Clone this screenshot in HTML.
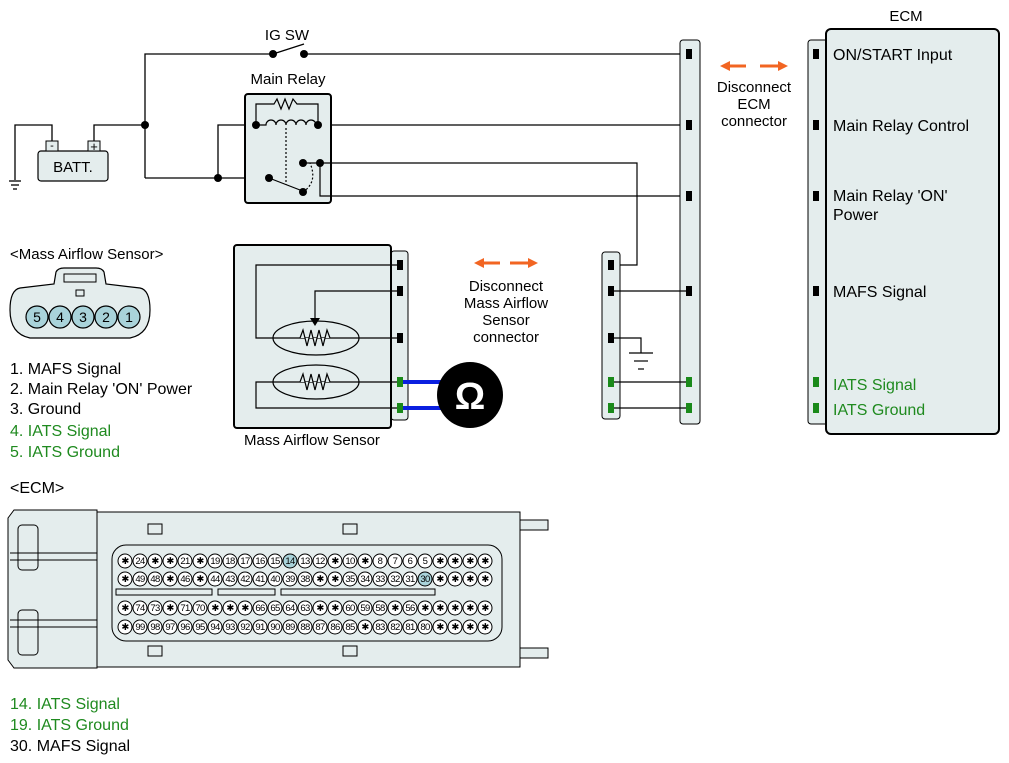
<!DOCTYPE html>
<html><head><meta charset="utf-8"><style>
html,body{margin:0;padding:0;background:#fff;}
svg{display:block;font-family:"Liberation Sans",sans-serif;}
</style></head><body>
<svg width="1009" height="763" viewBox="0 0 1009 763" xmlns="http://www.w3.org/2000/svg">
<g stroke="#000" stroke-width="1.3" fill="none">
<polyline points="145,178 145,54 273,54"/>
<line x1="273" y1="54" x2="304" y2="44"/>
<line x1="304" y1="54" x2="689" y2="54"/>
<polyline points="52,143 52,125 15,125 15,180"/>
<polyline points="94,143 94,125 145,125"/>
<line x1="145" y1="178" x2="269" y2="178"/>
<polyline points="218,178 218,125 689,125"/>
<line x1="9" y1="181" x2="21" y2="181"/><line x1="11" y1="185" x2="19" y2="185"/><line x1="13" y1="189" x2="17" y2="189"/>
</g>
<rect x="38" y="151" width="70" height="30" rx="3" fill="#e4eded" stroke="#000" stroke-width="1.2"/>
<rect x="46" y="141" width="12" height="10" fill="#e4eded" stroke="#000"/>
<rect x="88" y="141" width="12" height="10" fill="#e4eded" stroke="#000"/>
<text x="52" y="149" font-size="11" text-anchor="middle">-</text>
<text x="94" y="151" font-size="13" text-anchor="middle">+</text>
<text x="73" y="172" font-size="15" text-anchor="middle">BATT.</text>
<text x="287" y="40" font-size="15" text-anchor="middle">IG SW</text>
<text x="288" y="84" font-size="15" text-anchor="middle">Main Relay</text>
<rect x="245" y="94" width="86" height="109" rx="3" fill="#e4eded" stroke="#000" stroke-width="2"/>
<g stroke="#000" stroke-width="1.2" fill="none">
<polyline points="256,125 256,104 274,104 277,99 281,109 285,99 289,109 293,99 297,104 318,104 318,125"/>
<path d="M256,125 h10 a5,5 0 0 1 10,0 a5,5 0 0 1 10,0 a5,5 0 0 1 10,0 a5,5 0 0 1 10,0 a5,5 0 0 1 10,0 h2"/>
<line x1="286" y1="128" x2="286" y2="185" stroke-dasharray="2,2"/>
<path d="M303,192 Q318,182 310,163" stroke-dasharray="2,2"/>
<line x1="269" y1="178" x2="300" y2="190"/>
<polyline points="320,163 637,163 637,265 611,265"/>
<polyline points="320,163 320,196 689,196"/>
<line x1="303" y1="163" x2="320" y2="163"/>
</g>
<g fill="#000">
<circle cx="273" cy="54" r="4"/><circle cx="304" cy="54" r="4"/>
<circle cx="145" cy="125" r="4"/><circle cx="218" cy="178" r="4"/>
<circle cx="256" cy="125" r="4"/><circle cx="318" cy="125" r="4"/>
<circle cx="269" cy="178" r="4"/><circle cx="303" cy="192" r="4"/>
<circle cx="303" cy="163" r="4"/><circle cx="320" cy="163" r="4"/>
</g>
<text x="10" y="259" font-size="15">&lt;Mass Airflow Sensor&gt;</text>
<path d="M20,288 Q10,290 10,310 Q10,334 30,338 L130,338 Q150,334 150,310 Q150,290 140,288 L106,284 L104,272 Q102,268 96,268 L64,268 Q58,268 56,272 L54,284 Z" fill="#e4eded" stroke="#000" stroke-width="1.2"/>
<rect x="64" y="274" width="32" height="8" fill="none" stroke="#000"/>
<rect x="76" y="290" width="8" height="6" fill="none" stroke="#000"/>
<g fill="#a9d3da" stroke="#000" stroke-width="1.2">
<circle cx="37" cy="317" r="11"/><circle cx="60" cy="317" r="11"/><circle cx="83" cy="317" r="11"/><circle cx="106" cy="317" r="11"/><circle cx="129" cy="317" r="11"/>
</g>
<g font-size="14" text-anchor="middle">
<text x="37" y="322">5</text><text x="60" y="322">4</text><text x="83" y="322">3</text><text x="106" y="322">2</text><text x="129" y="322">1</text>
</g>
<g font-size="16">
<text x="10" y="374">1. MAFS Signal</text>
<text x="10" y="394">2. Main Relay 'ON' Power</text>
<text x="10" y="414">3. Ground</text>
<text x="10" y="436" fill="#1f8a1f">4. IATS Signal</text>
<text x="10" y="457" fill="#1f8a1f">5. IATS Ground</text>
<text x="10" y="493">&lt;ECM&gt;</text>
<text x="10" y="709" fill="#1f8a1f">14. IATS Signal</text>
<text x="10" y="730" fill="#1f8a1f">19. IATS Ground</text>
<text x="10" y="751">30. MAFS Signal</text>
</g>
<rect x="391" y="251" width="17" height="169" rx="3" fill="#e4eded" stroke="#000"/>
<rect x="234" y="245" width="157" height="183" rx="3" fill="#e4eded" stroke="#000" stroke-width="2"/>
<g stroke="#000" stroke-width="1.2" fill="none">
<polyline points="398,265 256,265 256,338 398,338"/>
<polyline points="398,291 315,291 315,318"/>
<ellipse cx="316" cy="338" rx="43" ry="17"/>
<ellipse cx="316" cy="382" rx="43" ry="17"/>
<polyline points="398,382 256,382 256,408 398,408"/>
<polyline points="300,338 303,330 307,346 311,330 315,346 319,330 323,346 327,330 330,338" fill="#e4eded"/>
<polyline points="300,382 303,374 307,390 311,374 315,390 319,374 323,390 327,374 330,382" fill="#e4eded"/>
</g>
<path d="M310,318 L320,318 L315,326 Z" fill="#000"/>
<g fill="#000"><rect x="397" y="260" width="6" height="10"/><rect x="397" y="286" width="6" height="10"/><rect x="397" y="333" width="6" height="10"/></g>
<line x1="403" y1="382" x2="450" y2="382" stroke="#0a1fe0" stroke-width="4"/>
<line x1="403" y1="408" x2="450" y2="408" stroke="#0a1fe0" stroke-width="4"/>
<g fill="#1a8a1a"><rect x="397" y="377" width="6" height="10"/><rect x="397" y="403" width="6" height="10"/></g>
<circle cx="470" cy="395" r="33" fill="#000"/>
<text x="470" y="409" font-size="38" font-weight="bold" fill="#fff" text-anchor="middle">Ω</text>
<text x="312" y="445" font-size="15" text-anchor="middle">Mass Airflow Sensor</text>
<g stroke="#f26522" stroke-width="3" fill="#f26522">
<line x1="480" y1="263" x2="500" y2="263"/><path d="M474,263 L484,258 L484,268 Z" stroke="none"/>
<line x1="510" y1="263" x2="530" y2="263"/><path d="M538,263 L528,258 L528,268 Z" stroke="none"/>
<line x1="727" y1="66" x2="746" y2="66"/><path d="M720,66 L730,61 L730,71 Z" stroke="none"/>
<line x1="760" y1="66" x2="780" y2="66"/><path d="M788,66 L778,61 L778,71 Z" stroke="none"/>
</g>
<g font-size="15" text-anchor="middle">
<text x="506" y="291">Disconnect</text><text x="506" y="308">Mass Airflow</text><text x="506" y="325">Sensor</text><text x="506" y="342">connector</text>
<text x="754" y="92">Disconnect</text><text x="754" y="109">ECM</text><text x="754" y="126">connector</text>
</g>
<rect x="602" y="252" width="18" height="167" rx="3" fill="#e4eded" stroke="#000"/>
<rect x="680" y="40" width="20" height="384" rx="3" fill="#e4eded" stroke="#000"/>
<g stroke="#000" stroke-width="1.2" fill="none">
<line x1="611" y1="291" x2="689" y2="291"/>
<polyline points="611,338 641,338 641,353"/>
<line x1="629" y1="353" x2="653" y2="353"/><line x1="634" y1="361" x2="648" y2="361"/><line x1="638" y1="369" x2="644" y2="369"/>
<line x1="611" y1="382" x2="689" y2="382"/>
<line x1="611" y1="408" x2="689" y2="408"/>
</g>
<g fill="#000">
<rect x="608" y="260" width="6" height="10"/><rect x="608" y="286" width="6" height="10"/><rect x="608" y="333" width="6" height="10"/>
<rect x="686" y="49" width="6" height="10"/><rect x="686" y="120" width="6" height="10"/><rect x="686" y="191" width="6" height="10"/><rect x="686" y="286" width="6" height="10"/>
</g>
<g fill="#1a8a1a">
<rect x="608" y="377" width="6" height="10"/><rect x="608" y="403" width="6" height="10"/>
<rect x="686" y="377" width="6" height="10"/><rect x="686" y="403" width="6" height="10"/>
</g>
<text x="906" y="21" font-size="15" text-anchor="middle">ECM</text>
<rect x="808" y="40" width="22" height="384" rx="3" fill="#e4eded" stroke="#000"/>
<rect x="826" y="29" width="173" height="405" rx="5" fill="#e4eded" stroke="#000" stroke-width="2"/>
<g fill="#000"><rect x="813" y="49" width="6" height="10"/><rect x="813" y="120" width="6" height="10"/><rect x="813" y="191" width="6" height="10"/><rect x="813" y="286" width="6" height="10"/></g>
<g fill="#1a8a1a"><rect x="813" y="377" width="6" height="10"/><rect x="813" y="403" width="6" height="10"/></g>
<g font-size="16">
<text x="833" y="60">ON/START Input</text>
<text x="833" y="131">Main Relay Control</text>
<text x="833" y="201">Main Relay 'ON'</text><text x="833" y="220">Power</text>
<text x="833" y="297">MAFS Signal</text>
<text x="833" y="390" fill="#1f8a1f">IATS Signal</text>
<text x="833" y="415" fill="#1f8a1f">IATS Ground</text>
</g>
<g stroke="#000" stroke-width="1" fill="#e4eded">
<path d="M14,510 L97,510 L97,668 L14,668 L8,660 L8,518 Z"/>
<rect x="18" y="525" width="20" height="45" rx="4"/>
<rect x="18" y="610" width="20" height="45" rx="4"/>
<line x1="10" y1="553" x2="97" y2="553"/><line x1="10" y1="560" x2="97" y2="560"/>
<line x1="10" y1="620" x2="97" y2="620"/><line x1="10" y1="627" x2="97" y2="627"/>
<rect x="97" y="512" width="423" height="155"/>
<rect x="520" y="520" width="28" height="10"/><rect x="520" y="648" width="28" height="10"/>
<rect x="148" y="524" width="14" height="10"/><rect x="148" y="646" width="14" height="10"/>
<rect x="343" y="524" width="14" height="10"/><rect x="343" y="646" width="14" height="10"/>
<rect x="112" y="545" width="390" height="96" rx="14"/>
<rect x="116" y="589" width="96" height="6" fill="none"/>
<rect x="218" y="589" width="57" height="6" fill="none"/>
<rect x="281" y="589" width="154" height="6" fill="none"/>
</g>
<g stroke="#000" stroke-width="1" fill="#fff">
<g>
<circle cx="125" cy="561" r="7"/><circle cx="140" cy="561" r="7"/><circle cx="155" cy="561" r="7"/><circle cx="170" cy="561" r="7"/><circle cx="185" cy="561" r="7"/><circle cx="200" cy="561" r="7"/><circle cx="215" cy="561" r="7"/><circle cx="230" cy="561" r="7"/><circle cx="245" cy="561" r="7"/><circle cx="260" cy="561" r="7"/><circle cx="275" cy="561" r="7"/><circle cx="290" cy="561" r="7" fill="#a9d3da"/><circle cx="305" cy="561" r="7"/><circle cx="320" cy="561" r="7"/><circle cx="335" cy="561" r="7"/><circle cx="350" cy="561" r="7"/><circle cx="365" cy="561" r="7"/><circle cx="380" cy="561" r="7"/><circle cx="395" cy="561" r="7"/><circle cx="410" cy="561" r="7"/><circle cx="425" cy="561" r="7"/><circle cx="440" cy="561" r="7"/><circle cx="455" cy="561" r="7"/><circle cx="470" cy="561" r="7"/><circle cx="485" cy="561" r="7"/>
</g>
<g>
<circle cx="125" cy="579" r="7"/><circle cx="140" cy="579" r="7"/><circle cx="155" cy="579" r="7"/><circle cx="170" cy="579" r="7"/><circle cx="185" cy="579" r="7"/><circle cx="200" cy="579" r="7"/><circle cx="215" cy="579" r="7"/><circle cx="230" cy="579" r="7"/><circle cx="245" cy="579" r="7"/><circle cx="260" cy="579" r="7"/><circle cx="275" cy="579" r="7"/><circle cx="290" cy="579" r="7"/><circle cx="305" cy="579" r="7"/><circle cx="320" cy="579" r="7"/><circle cx="335" cy="579" r="7"/><circle cx="350" cy="579" r="7"/><circle cx="365" cy="579" r="7"/><circle cx="380" cy="579" r="7"/><circle cx="395" cy="579" r="7"/><circle cx="410" cy="579" r="7"/><circle cx="425" cy="579" r="7" fill="#a9d3da"/><circle cx="440" cy="579" r="7"/><circle cx="455" cy="579" r="7"/><circle cx="470" cy="579" r="7"/><circle cx="485" cy="579" r="7"/>
</g>
<g>
<circle cx="125" cy="608" r="7"/><circle cx="140" cy="608" r="7"/><circle cx="155" cy="608" r="7"/><circle cx="170" cy="608" r="7"/><circle cx="185" cy="608" r="7"/><circle cx="200" cy="608" r="7"/><circle cx="215" cy="608" r="7"/><circle cx="230" cy="608" r="7"/><circle cx="245" cy="608" r="7"/><circle cx="260" cy="608" r="7"/><circle cx="275" cy="608" r="7"/><circle cx="290" cy="608" r="7"/><circle cx="305" cy="608" r="7"/><circle cx="320" cy="608" r="7"/><circle cx="335" cy="608" r="7"/><circle cx="350" cy="608" r="7"/><circle cx="365" cy="608" r="7"/><circle cx="380" cy="608" r="7"/><circle cx="395" cy="608" r="7"/><circle cx="410" cy="608" r="7"/><circle cx="425" cy="608" r="7"/><circle cx="440" cy="608" r="7"/><circle cx="455" cy="608" r="7"/><circle cx="470" cy="608" r="7"/><circle cx="485" cy="608" r="7"/>
</g>
<g>
<circle cx="125" cy="627" r="7"/><circle cx="140" cy="627" r="7"/><circle cx="155" cy="627" r="7"/><circle cx="170" cy="627" r="7"/><circle cx="185" cy="627" r="7"/><circle cx="200" cy="627" r="7"/><circle cx="215" cy="627" r="7"/><circle cx="230" cy="627" r="7"/><circle cx="245" cy="627" r="7"/><circle cx="260" cy="627" r="7"/><circle cx="275" cy="627" r="7"/><circle cx="290" cy="627" r="7"/><circle cx="305" cy="627" r="7"/><circle cx="320" cy="627" r="7"/><circle cx="335" cy="627" r="7"/><circle cx="350" cy="627" r="7"/><circle cx="365" cy="627" r="7"/><circle cx="380" cy="627" r="7"/><circle cx="395" cy="627" r="7"/><circle cx="410" cy="627" r="7"/><circle cx="425" cy="627" r="7"/><circle cx="440" cy="627" r="7"/><circle cx="455" cy="627" r="7"/><circle cx="470" cy="627" r="7"/><circle cx="485" cy="627" r="7"/>
</g>
</g>
<g font-size="9.5" text-anchor="middle" letter-spacing="-0.6">
<text y="564"><tspan x="125">✱</tspan><tspan x="140">24</tspan><tspan x="155">✱</tspan><tspan x="170">✱</tspan><tspan x="185">21</tspan><tspan x="200">✱</tspan><tspan x="215">19</tspan><tspan x="230">18</tspan><tspan x="245">17</tspan><tspan x="260">16</tspan><tspan x="275">15</tspan><tspan x="290">14</tspan><tspan x="305">13</tspan><tspan x="320">12</tspan><tspan x="335">✱</tspan><tspan x="350">10</tspan><tspan x="365">✱</tspan><tspan x="380">8</tspan><tspan x="395">7</tspan><tspan x="410">6</tspan><tspan x="425">5</tspan><tspan x="440">✱</tspan><tspan x="455">✱</tspan><tspan x="470">✱</tspan><tspan x="485">✱</tspan></text>
<text y="582"><tspan x="125">✱</tspan><tspan x="140">49</tspan><tspan x="155">48</tspan><tspan x="170">✱</tspan><tspan x="185">46</tspan><tspan x="200">✱</tspan><tspan x="215">44</tspan><tspan x="230">43</tspan><tspan x="245">42</tspan><tspan x="260">41</tspan><tspan x="275">40</tspan><tspan x="290">39</tspan><tspan x="305">38</tspan><tspan x="320">✱</tspan><tspan x="335">✱</tspan><tspan x="350">35</tspan><tspan x="365">34</tspan><tspan x="380">33</tspan><tspan x="395">32</tspan><tspan x="410">31</tspan><tspan x="425">30</tspan><tspan x="440">✱</tspan><tspan x="455">✱</tspan><tspan x="470">✱</tspan><tspan x="485">✱</tspan></text>
<text y="611"><tspan x="125">✱</tspan><tspan x="140">74</tspan><tspan x="155">73</tspan><tspan x="170">✱</tspan><tspan x="185">71</tspan><tspan x="200">70</tspan><tspan x="215">✱</tspan><tspan x="230">✱</tspan><tspan x="245">✱</tspan><tspan x="260">66</tspan><tspan x="275">65</tspan><tspan x="290">64</tspan><tspan x="305">63</tspan><tspan x="320">✱</tspan><tspan x="335">✱</tspan><tspan x="350">60</tspan><tspan x="365">59</tspan><tspan x="380">58</tspan><tspan x="395">✱</tspan><tspan x="410">56</tspan><tspan x="425">✱</tspan><tspan x="440">✱</tspan><tspan x="455">✱</tspan><tspan x="470">✱</tspan><tspan x="485">✱</tspan></text>
<text y="630"><tspan x="125">✱</tspan><tspan x="140">99</tspan><tspan x="155">98</tspan><tspan x="170">97</tspan><tspan x="185">96</tspan><tspan x="200">95</tspan><tspan x="215">94</tspan><tspan x="230">93</tspan><tspan x="245">92</tspan><tspan x="260">91</tspan><tspan x="275">90</tspan><tspan x="290">89</tspan><tspan x="305">88</tspan><tspan x="320">87</tspan><tspan x="335">86</tspan><tspan x="350">85</tspan><tspan x="365">✱</tspan><tspan x="380">83</tspan><tspan x="395">82</tspan><tspan x="410">81</tspan><tspan x="425">80</tspan><tspan x="440">✱</tspan><tspan x="455">✱</tspan><tspan x="470">✱</tspan><tspan x="485">✱</tspan></text>
</g>
</svg>
</body></html>
